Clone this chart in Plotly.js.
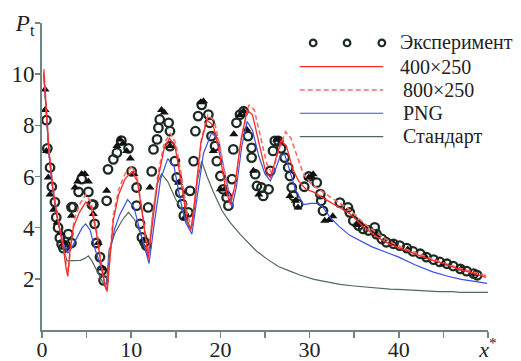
<!DOCTYPE html>
<html><head><meta charset="utf-8">
<script src="https://cdn.plot.ly/plotly-3.0.1.min.js"></script>
<style>html,body{margin:0;padding:0;background:#fff}#chart{width:521px;height:361px}</style>
</head><body><div id="chart"></div>
<script>
// ---- data ----
const seriesNames = ['Эксперимент', '400×250', '800×250', 'PNG', 'Стандарт'];

const expCircX = [0.5,0.6,0.9,1.1,1.45,1.6,1.8,2.0,2.2,2.4,2.7,2.95,3.3,
  3.3,3.5,4.1,4.45,5.2,5.6,5.75,5.9,6.1,6.5,6.7,6.9,
  7.25,7.4,8.0,8.4,8.9,9.7,10.05,10.6,10.6,11.0,11.2,11.5,11.7,
  11.9,12.3,12.5,12.9,13.05,13.2,14.2,14.35,14.35,14.9,15.1,15.5,15.7,15.9,16.4,16.6,
  17.0,17.2,17.5,17.9,18.65,18.8,19.0,19.4,19.6,20.0,20.3,20.7,20.9,
  21.3,21.45,21.8,22.2,22.6,23.1,23.5,23.5,23.9,24.1,24.6,24.8,25.4,
  25.6,25.9,26.1,26.5,26.8,27.2,27.6,27.8,28.0,28.2,28.7,29.4,29.9,
  30.8,31.2,31.3,31.5,33.4,34.3,34.5,34.9,35.5,36.0,36.6,37.3,37.5,38.1,38.6,39.4,40.1,40.9,41.6,42.4,43.1,43.9,44.6,45.4,46.1,46.9,47.6,48.4,48.8];
const expCircY = [8.2,7.1,6.35,5.6,5.0,4.4,4.0,3.6,3.35,3.2,3.3,3.75,3.4,
  4.8,4.8,5.4,5.9,5.4,4.9,4.9,4.15,3.4,2.85,2.33,1.94,
  5.05,6.28,6.67,6.93,7.4,7.1,6.2,5.57,4.86,4.15,3.62,3.43,3.3,
  4.79,6.2,7.06,7.45,7.9,8.23,8.1,7.77,7.19,6.6,5.96,5.37,4.92,4.47,4.6,5.44,
  6.6,7.77,8.36,8.8,8.42,8.1,7.58,7.19,6.6,6.02,5.5,5.18,4.86,
  5.9,7.06,8.1,8.42,8.55,7.58,7.12,6.74,6.09,5.63,5.57,5.24,5.5,
  6.22,7.0,7.39,7.39,7.1,6.74,6.35,6.02,5.57,5.24,4.92,5.6,6.0,
  5.76,5.31,5.05,4.66,4.98,4.79,4.6,4.27,4.08,3.95,3.89,4.01,3.75,3.56,3.43,3.37,3.3,3.2,3.07,2.98,2.85,2.75,2.66,2.59,2.5,2.39,2.3,2.2,2.14];

const expTriX = [0.34,0.34,0.5,0.7,0.9,1.3,1.7,2.1,2.5,
  3.3,3.7,4.0,4.45,4.8,5.2,5.75,6.3,6.8,
  7.25,8.4,8.75,9.1,9.5,9.9,10.3,11.4,
  12.1,13.4,13.7,14.35,15.3,16.0,
  17.8,18.1,19.2,20.0,20.5,20.9,
  21.5,22.2,22.6,22.95,23.7,24.3,
  26.3,26.5,27.8,28.4,28.7,29.9,30.2,30.4,
  31.7,32.2,32.6,35.3,35.6,37.5,39.4,41.0,43.0,45.0,47.0,48.5];
const expTriY = [9.4,8.6,7.0,5.96,5.3,4.7,4.2,3.8,3.4,
  4.47,5.57,5.8,6.1,6.1,5.8,4.53,3.4,2.4,
  5.44,7.19,7.45,7.3,7.0,6.7,6.1,3.5,
  5.57,8.6,8.5,7.19,5.76,4.4,
  8.9,8.94,7.0,5.5,5.5,5.31,
  7.65,8.4,8.55,7.84,6.22,5.3,
  7.45,7.45,5.24,5.05,4.79,5.96,6.0,6.09,
  4.27,4.3,4.45,4.1,4.15,3.75,3.37,3.15,2.85,2.6,2.4,2.2];

const r400X = [0.2,0.5,0.8,1.2,1.6,2.0,2.4,2.7,2.9,3.1,3.5,4.2,4.9,5.5,6.1,6.6,7.0,7.3,7.6,8.0,8.6,9.3,10.1,10.7,11.3,11.9,12.4,13.0,13.7,14.3,14.9,15.6,16.2,16.7,17.2,17.8,18.5,19.2,19.9,20.6,21.1,21.6,22.3,23.0,23.6,24.3,25.0,25.6,26.2,26.8,27.4,28.1,28.8,29.6,30.4,31.3,32.3,33.3,34.5,36.0,37.5,39.0,40.5,42.0,43.5,45.0,46.5,48.0,49.8];
const r400Y = [10.1,8.3,6.9,5.6,4.6,3.9,3.2,2.4,2.1,3.0,4.0,4.6,5.0,4.8,3.8,2.6,1.8,1.5,2.8,4.3,5.3,5.9,6.2,5.8,4.4,2.8,4.2,5.9,7.1,7.5,7.2,5.8,4.4,3.9,5.3,7.3,8.2,8.0,6.9,5.5,4.9,5.6,7.4,8.6,8.4,7.3,6.3,5.95,6.7,7.4,7.2,6.3,5.8,5.5,5.4,5.2,5.0,4.8,4.55,4.05,3.65,3.35,3.15,2.95,2.75,2.6,2.4,2.25,2.06];

const r800X = [0.2,0.5,0.8,1.2,1.6,2.0,2.4,2.7,2.95,3.2,3.6,4.2,4.9,5.5,6.1,6.6,7.0,7.3,7.6,8.0,8.6,9.3,10.1,10.7,11.3,11.9,12.4,13.0,13.7,14.4,15.0,15.7,16.3,16.8,17.3,17.9,18.6,19.3,20.0,20.7,21.2,21.7,22.4,23.2,23.8,24.5,25.2,25.8,26.5,27.3,27.9,28.6,29.3,30.2,31.2,32.3,33.4,34.5,36.0,37.5,39.0,40.5,42.0,43.5,45.0,46.5,48.0,49.8];
const r800Y = [10.2,8.5,7.0,5.7,4.7,4.0,3.3,2.6,2.3,3.2,4.3,4.9,5.3,5.0,3.9,2.7,1.9,1.6,2.9,4.5,5.5,6.1,6.4,5.9,4.5,3.0,4.4,6.1,7.3,7.7,7.3,5.9,4.5,4.0,5.5,7.5,8.4,8.2,7.1,5.7,5.0,5.7,7.6,8.8,8.6,7.5,6.5,6.1,7.0,7.75,7.5,6.8,6.1,5.7,5.45,5.2,4.95,4.7,4.2,3.8,3.45,3.2,3.0,2.8,2.62,2.45,2.3,2.12];

const pngX = [0.2,0.5,0.8,1.2,1.6,2.0,2.5,2.9,3.3,3.9,4.5,4.9,5.4,6.0,6.6,7.2,7.6,8.1,8.7,9.6,10.3,10.9,11.5,12.0,12.6,13.3,14.1,14.8,15.5,16.1,16.8,17.4,18.1,19.0,19.7,20.4,21.0,21.3,21.8,22.4,23.0,23.6,24.3,25.0,25.6,26.2,26.7,27.2,27.8,28.4,29.3,30.2,31.0,31.5,32.3,33.3,34.5,35.8,37.0,38.5,40.0,41.8,43.8,45.5,47.0,48.5,49.9];
const pngY = [10.0,8.2,6.8,5.5,4.6,3.9,3.3,3.0,3.2,3.6,4.0,4.15,3.9,3.1,2.5,1.6,3.0,3.9,4.5,5.1,4.8,4.0,3.2,2.6,4.2,5.9,6.7,6.4,5.1,4.2,3.75,5.2,6.9,7.7,7.5,6.3,5.2,4.8,5.6,7.2,8.15,7.8,6.8,6.1,5.83,6.3,6.8,6.87,6.2,5.5,4.9,4.95,4.95,4.8,4.4,4.05,3.7,3.45,3.25,3.05,2.85,2.55,2.27,2.1,1.98,1.9,1.82];

const stdX = [0.2,0.5,0.8,1.2,1.6,2.0,2.4,2.8,3.5,4.3,4.8,5.2,5.6,6.2,6.8,7.2,7.5,8.2,9.0,9.7,10.4,11.0,11.5,11.9,12.4,12.9,13.4,14.1,15.0,15.8,16.5,16.9,17.4,17.9,18.5,19.2,20.2,21.1,22.2,23.0,24.0,25.2,26.5,27.8,28.9,30.5,32.0,33.4,35.0,37.0,39.0,40.5,42.5,44.5,46.0,46.9,48.5,50.0];
const stdY = [10.0,8.2,6.8,5.5,4.6,3.9,3.2,2.7,2.7,2.72,2.8,2.9,2.7,2.3,1.9,1.6,3.1,3.8,4.3,4.6,4.3,3.8,3.3,2.8,4.5,5.7,6.1,5.8,5.1,4.6,4.0,4.1,5.8,6.6,6.0,5.4,4.65,4.2,3.75,3.45,3.1,2.78,2.48,2.3,2.15,1.98,1.88,1.78,1.72,1.65,1.6,1.58,1.54,1.5,1.5,1.47,1.47,1.47];

const xTickVals = [0,10,20,30,40,50];
const xTickText = ['0','10','20','30','40','<i>x</i><sup>*</sup>'];
const yTickVals = [2,4,6,8,10,12];
const yTickText = ['2','4','6','8','10','<i>P</i><sub>t</sub>'];

// ---- styles ----
const C_EXP = '#1d2b22', C_R1 = '#ff2a2a', C_R2 = '#ff6b6b', C_PNG = '#3b4fe6', C_STD = '#4d6b5b';
const AX = '#6f8585';
const FONT = 'Liberation Serif, Times New Roman, serif';

const traces = [
  {x: expCircX, y: expCircY, mode: 'markers', name: seriesNames[0], showlegend: false,
   marker: {symbol: 'circle-open', size: 8.5, color: C_EXP, line: {width: 2.3, color: C_EXP}}},
  {x: expTriX, y: expTriY, mode: 'markers', showlegend: false,
   marker: {symbol: 'triangle-up', size: 8, color: '#111'}},
  {x: stdX, y: stdY, mode: 'lines', name: seriesNames[4], showlegend: false, line: {color: C_STD, width: 1.2}},
  {x: pngX, y: pngY, mode: 'lines', name: seriesNames[3], showlegend: false, line: {color: C_PNG, width: 1.2}},
  {x: r800X, y: r800Y, mode: 'lines', name: seriesNames[2], showlegend: false, line: {color: C_R2, width: 1.6, dash: '5px,3px'}},
  {x: r400X, y: r400Y, mode: 'lines', name: seriesNames[1], showlegend: false, line: {color: C_R1, width: 1.3}}
];

// manual legend (paper coords)
const rowY = [0.935, 0.858, 0.782, 0.706, 0.630];
const lx0 = 0.578, lx1 = 0.765, tx = 0.798;
const shapes = [];
[0.608, 0.684, 0.762].forEach(cx => shapes.push({type: 'circle', xref: 'paper', yref: 'paper',
  xsizemode: 'pixel', ysizemode: 'pixel', xanchor: cx, yanchor: rowY[0], x0: -3.3, x1: 3.3, y0: -3.3, y1: 3.3,
  line: {color: C_EXP, width: 2.2}}));
const lineStyles = [null, {color: C_R1, width: 1.3}, {color: C_R2, width: 1.6, dash: '5px,3px'}, {color: C_PNG, width: 1.2}, {color: C_STD, width: 1.2}];
for (let i = 1; i < 5; i++) shapes.push({type: 'line', xref: 'paper', yref: 'paper', x0: lx0, x1: lx1, y0: rowY[i], y1: rowY[i], line: lineStyles[i]});
const annotations = seriesNames.map((n, i) => ({xref: 'paper', yref: 'paper', x: tx + (i >= 2 ? 0.007 : 0), y: rowY[i], text: n,
  showarrow: false, xanchor: 'left', yanchor: 'middle', font: {family: FONT, size: 20, color: '#222'}}));

const layout = {
  width: 521, height: 361, margin: {l: 42, r: 33, t: 23, b: 31},
  paper_bgcolor: '#fff', plot_bgcolor: '#fff', showlegend: false,
  font: {family: FONT, size: 22, color: '#222'},
  xaxis: {range: [0, 50], showgrid: false, zeroline: false, showline: true, linecolor: AX, linewidth: 2,
    ticks: 'outside', ticklen: 6, tickwidth: 1.5, tickcolor: AX, tickvals: xTickVals, ticktext: xTickText,
    minor: {dtick: 5, tick0: 0, ticks: 'outside', ticklen: 6, tickwidth: 1.5, tickcolor: AX, showgrid: false},
    ticklabelstandoff: -7, tickfont: {family: FONT, size: 22, color: '#222'}},
  yaxis: {range: [0, 12], showgrid: false, zeroline: false, showline: true, linecolor: AX, linewidth: 2,
    ticks: 'outside', ticklen: 5, tickwidth: 1.5, tickcolor: AX, tickvals: yTickVals, ticktext: yTickText,
    ticklabelstandoff: -4, tickfont: {family: FONT, size: 23, color: '#222'}},
  shapes: shapes, annotations: annotations
};
Plotly.newPlot('chart', traces, layout, {staticPlot: true});
</script></body></html>
